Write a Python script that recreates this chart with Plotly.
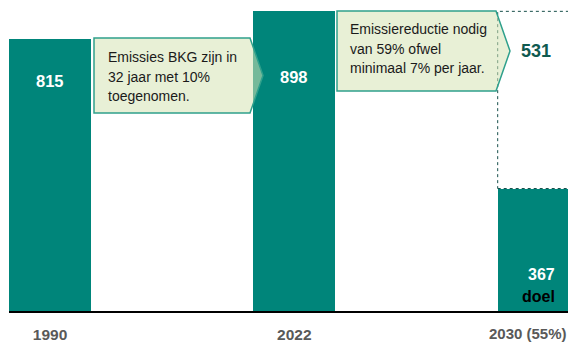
import plotly.graph_objects as go

categories = ["1990", "2022", "2030 (55%)"]
values = [815, 898, 367]
reduction = 531  # 898 - 367, shown as dotted gap
target_label = "doel"
callout1 = ["Emissies BKG zijn in", "32 jaar met 10%", "toegenomen."]
callout2 = ["Emissiereductie nodig", "van 59% ofwel", "minimaal 7% per jaar."]

OFF = 8  # page body margin
W, H = 568, 337
L, R, T, B = 1, 0, 0, 34
PW, PH = W - L - R, H - T - B
BAR_W = 0.3356
XR = [-0.1678, 2.1527]
YR = [0, PH / 0.3337]

FONT = "Liberation Sans, Arial, sans-serif"
TEAL = "#00857A"
xs = [0, 1, 2]

def px(x):
    return (x - OFF - L) / PW

def py(y):
    return (T + PH - (y - OFF)) / PH

fig = go.Figure()
fig.add_trace(go.Bar(
    x=xs, y=values, width=BAR_W, marker=dict(color=TEAL, line=dict(width=0)),
    hoverinfo="skip", showlegend=False,
))

# dotted outline for the required reduction, stacked on the 2030 target
fig.add_shape(type="rect", xref="x", yref="y",
              x0=xs[2] - BAR_W / 2, x1=xs[2] + BAR_W / 2,
              y0=values[2], y1=values[2] + reduction,
              line=dict(color="#174F4A", width=1, dash="dot"),
              fillcolor="rgba(0,0,0,0)", layer="above")

# value labels
label_y = [81, 77.5]
for i in range(2):
    fig.add_annotation(x=xs[i], y=py(label_y[i]), xref="x", yref="paper",
                       text=f"<b>{values[i]}</b>", showarrow=False,
                       font=dict(family=FONT, size=16.5, color="white"),
                       xanchor="center", yanchor="middle")
fig.add_annotation(x=px(536), y=py(51), xref="paper", yref="paper",
                   text=f"<b>{reduction}</b>", showarrow=False,
                   font=dict(family=FONT, size=18, color="#0F5A50"),
                   xanchor="center", yanchor="middle")
fig.add_annotation(x=px(541.5), y=py(274.5), xref="paper", yref="paper",
                   text=f"<b>{values[2]}</b>", showarrow=False,
                   font=dict(family=FONT, size=16, color="white"),
                   xanchor="center", yanchor="middle")
fig.add_annotation(x=px(538), y=py(296), xref="paper", yref="paper",
                   text=f"<b>{target_label}</b>", showarrow=False,
                   font=dict(family=FONT, size=16, color="black"),
                   xanchor="center", yanchor="middle")

# callout shapes
def callout(x0, x1, xt, y0, y1):
    ym = (y0 + y1) / 2
    path = (f"M {px(x0)} {py(y0)} L {px(x1)} {py(y0)} L {px(xt)} {py(ym)} "
            f"L {px(x1)} {py(y1)} L {px(x0)} {py(y1)} Z")
    fig.add_shape(type="path", xref="paper", yref="paper", path=path,
                  fillcolor="rgba(213,227,181,0.55)",
                  line=dict(color="#2FA08C", width=1.5), layer="above")

callout(94, 250, 263, 38, 113)
callout(337, 496, 510, 11, 91)

def text_lines(lines, x, y_first, step=19.7):
    for k, t in enumerate(lines):
        fig.add_annotation(x=px(x), y=py(y_first + k * step), xref="paper", yref="paper",
                           text=t, showarrow=False, xanchor="left", yanchor="middle",
                           font=dict(family=FONT, size=14, color="#1A1A1A"))

text_lines(callout1, 106, 57)
text_lines(callout2, 348, 29)

# first two category labels as ticks; the last one right-aligned near the edge so it stays visible
ticktext = [f"<b>{c}</b>" for c in categories[:2]] + [""]
fig.add_annotation(x=px(569), y=py(333.5), xref="paper", yref="paper",
                   text=f"<b>{categories[2]}</b>", showarrow=False,
                   xanchor="right", yanchor="middle",
                   font=dict(family=FONT, size=15, color="#595959"))

fig.update_layout(
    width=W, height=H, margin=dict(l=L, r=R, t=T, b=B, autoexpand=False),
    paper_bgcolor="white", plot_bgcolor="white",
    bargap=0,
    xaxis=dict(range=XR, tickvals=xs, ticktext=ticktext,
               showgrid=False, zeroline=False, showline=True, linecolor="black",
               linewidth=2, ticks="", automargin=False, fixedrange=True,
               ticklabeloverflow="allow", ticklabelstandoff=8,
               tickfont=dict(family=FONT, size=15.5, color="#595959")),
    yaxis=dict(range=YR, visible=False, fixedrange=True),
)

fig.write_html("out.html")
